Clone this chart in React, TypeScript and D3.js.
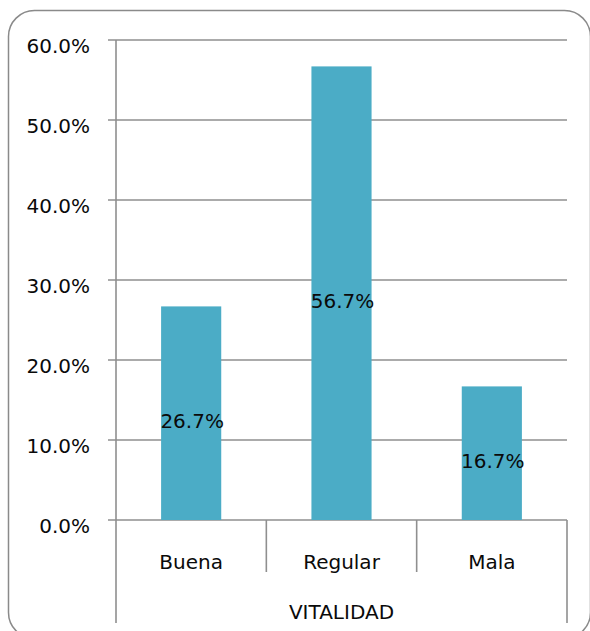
import React from "react";
import * as d3 from "d3";

const categories = ["Buena", "Regular", "Mala"];
const values = [26.7, 56.7, 16.7];
const yTicks = [0, 10, 20, 30, 40, 50, 60];
const axisTitle = "VITALIDAD";

const W = 590;
const H = 631;
const left = 116;
const right = 567;
const top = 40;
const bottom = 520;
const FONT = "'DejaVu Sans', sans-serif";
const GRID = "#8f8f8f";
const TXT = "#0a0a0a";

export default function App() {
  const x = d3.scaleBand<string>().domain(categories).range([left, right]).paddingInner(0).paddingOuter(0);
  const y = d3.scaleLinear().domain([0, 60]).range([bottom, top]);
  const barW = x.bandwidth() * 0.4;
  const fmt = (v: number) => v.toFixed(1) + "%";

  return (
    <svg width={W} height={H} style={{ position: "absolute", left: 0, top: 0, display: "block" }}>
      <rect x={0} y={0} width={W} height={H} fill="#fff" />
      <rect x={8.5} y={10.5} width={582} height={628} rx={26} ry={26} fill="#fff" stroke="#8a8a8a" strokeWidth={1.5} />
      {yTicks.map((t) => (
        <g key={t}>
          <line x1={left - 8} x2={right} y1={y(t)} y2={y(t)} stroke={GRID} strokeWidth={1.6} />
          <text x={90} y={y(t) + 13} textAnchor="end" fontFamily={FONT} fontSize={20} fill={TXT}>
            {fmt(t)}
          </text>
        </g>
      ))}
      {categories.map((c, i) => {
        const cx = (x(c) as number) + x.bandwidth() / 2;
        const yTop = y(values[i]);
        return (
          <g key={c}>
            <rect x={cx - barW / 2} y={yTop} width={barW} height={bottom - yTop} fill="#4bacc6" />
            <text x={cx + 1} y={(yTop + bottom) / 2 + 15} textAnchor="middle" fontFamily={FONT} fontSize={20} fill={TXT}>
              {fmt(values[i])}
            </text>
            <text x={cx} y={569} textAnchor="middle" fontFamily={FONT} fontSize={20} fill={TXT}>
              {c}
            </text>
          </g>
        );
      })}
      <line x1={left} x2={left} y1={top} y2={623} stroke={GRID} strokeWidth={1.6} />
      {categories.slice(1).map((c) => (
        <line key={c} x1={x(c) as number} x2={x(c) as number} y1={bottom} y2={572} stroke={GRID} strokeWidth={1.6} />
      ))}
      <line x1={right} x2={right} y1={bottom} y2={623} stroke={GRID} strokeWidth={1.6} />
      <text x={(left + right) / 2} y={619} textAnchor="middle" fontFamily={FONT} fontSize={20} fill={TXT}>
        {axisTitle}
      </text>
    </svg>
  );
}
